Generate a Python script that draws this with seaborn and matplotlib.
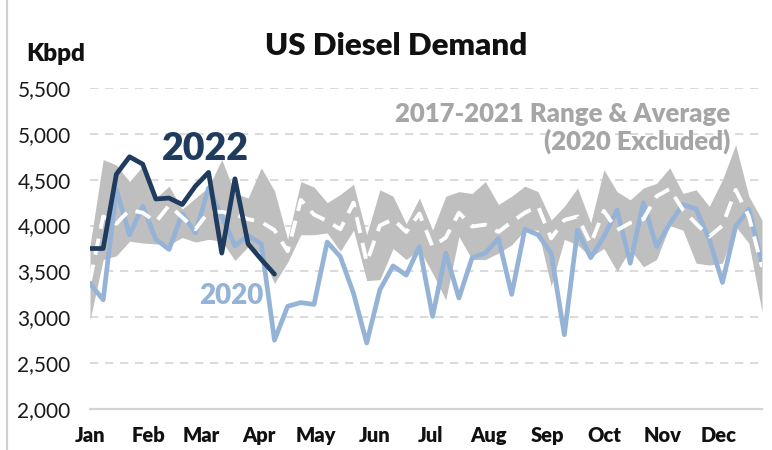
import matplotlib
matplotlib.use("Agg")
import matplotlib.pyplot as plt
from matplotlib.lines import Line2D
import seaborn as sns
import pandas as pd
import numpy as np

# weekly US diesel demand, kbpd (week 0 = first week of Jan)
weeks = list(range(52))

range_high = [3780, 4720, 4660, 4480, 4650, 4300, 4430, 4180, 4300, 4420,
              4720, 4350, 4300, 4630, 4380, 3850, 4480, 4420, 4250, 4340,
              4450, 3900, 4390, 4320, 4020, 4300, 3950, 4320, 4370, 4350,
              4480, 4230, 4320, 4430, 4370, 4060, 4210, 4410, 4030, 4610,
              4370, 4280, 4410, 4460, 4630, 4350, 4390, 4210, 4500, 4880,
              4320, 4060]
range_low = [2970, 3630, 3670, 3830, 3810, 3800, 3790, 3870, 3820, 3850,
             3830, 3620, 3770, 3700, 3370, 3600, 3900, 3900, 3920, 3720,
             3950, 3400, 3410, 3750, 3630, 3740, 3480, 3190, 3880, 3630,
             3630, 3700, 3790, 3950, 3950, 3340, 3850, 3790, 3660, 3750,
             3500, 3740, 3550, 3630, 4000, 3950, 3590, 3570, 3590, 3990,
             3810, 3060]
avg_17_21 = [3400, 4100, 4020, 4170, 4140, 4040, 4220, 4090, 3960, 4150,
             4150, 4120, 4070, 4040, 3950, 3720, 4280, 4120, 4050, 3960,
             4250, 3600, 4000, 4070, 3930, 4130, 3770, 3870, 4140, 3990,
             4010, 3930, 4040, 4140, 4210, 3860, 4060, 4100, 3800, 4160,
             3950, 4030, 4070, 4320, 4400, 4170, 4020, 3880, 4000, 4390,
             4100, 3550]
d2020 = [3370, 3190, 4390, 3900, 4210, 3850, 3740, 4130, 3920, 4410,
         4100, 3780, 3890, 3800, 2750, 3120, 3160, 3140, 3820, 3660,
         3260, 2720, 3300, 3560, 3460, 3770, 3010, 3700, 3210, 3650,
         3700, 3860, 3250, 3960, 3900, 3700, 2810, 3950, 3650, 3880,
         4170, 3590, 4250, 3770, 4020, 4230, 4180, 3850, 3380, 3990,
         4180, 3590]
d2022 = [3750, 3750, 4560, 4750, 4670, 4290, 4300, 4230, 4430, 4580,
         3700, 4510, 3800, 3630, 3470]

months = ["Jan", "Feb", "Mar", "Apr", "May", "Jun",
          "Jul", "Aug", "Sep", "Oct", "Nov", "Dec"]
month_start_day = [0, 31, 59, 90, 120, 151, 181, 212, 243, 273, 304, 334]

df = pd.DataFrame({"week": weeks, "high": range_high, "low": range_low,
                   "avg": avg_17_21, "y2020": d2020})
df22 = pd.DataFrame({"week": weeks[:len(d2022)], "y2022": d2022})

sns.set_style("white")
plt.rcParams["font.family"] = ["Lato", "DejaVu Sans"]

fig = plt.figure(figsize=(7.72, 4.5), dpi=100)
ax = fig.add_axes([90 / 772, 1 - 409 / 450, (762 - 90) / 772, (409 - 88) / 450])

ax.fill_between(df["week"], df["low"], df["high"], color="#BFBFBF", lw=0, zorder=1)
sns.lineplot(data=df, x="week", y="y2020", color="#95B3D7", lw=3.4, ax=ax, zorder=3)
sns.lineplot(data=df, x="week", y="avg", color="white", lw=2.8, ax=ax, zorder=4,
             dashes=False)
ax.lines[-1].set_dashes([4.2, 2.6])
sns.lineplot(data=df22, x="week", y="y2022", color="#1F3B5E", lw=3.4, ax=ax, zorder=5)

ax.set_xlim(0, 51)
ax.set_ylim(2000, 5500)
ax.set_yticks(range(2000, 5501, 500))
ax.set_yticklabels([f"{v:,}" for v in range(2000, 5501, 500)], fontsize=15,
                   color="#1a1a1a")
ax.set_xticks([d / 7 for d in month_start_day])
ax.set_xticklabels(months, fontsize=14.5, fontweight="heavy", color="#111111")
ax.tick_params(axis="y", length=0, pad=14)
ax.tick_params(axis="x", length=4, width=1.2, color="#D0D0D0", pad=8)
ax.set_xlabel("")
ax.set_ylabel("")

for v in range(2500, 5501, 500):
    ax.axhline(v, color="#D4D4D4", lw=1.2, ls=(0, (5, 4)), zorder=0)

for s in ["top", "right", "left"]:
    ax.spines[s].set_visible(False)
ax.spines["bottom"].set_color("#D4D4D4")
ax.spines["bottom"].set_linewidth(1.6)

fig.text(396 / 772, 1 - 46 / 450, "US Diesel Demand", ha="center", va="center",
         fontsize=22.5, fontweight="heavy", color="#111111")
fig.text(26 / 772, 1 - 54 / 450, "Kbpd", ha="left", va="center",
         fontsize=17.5, fontweight="heavy", color="#111111")
fig.text(205 / 772, 1 - 149 / 450, "2022", ha="center", va="center",
         fontsize=27, fontweight="heavy", color="#1F3B5E")
fig.text(231 / 772, 1 - 296 / 450, "2020", ha="center", va="center",
         fontsize=20, fontweight="heavy", color="#95B3D7")
fig.text(730 / 772, 1 - 128 / 450, "2017-2021 Range & Average\n(2020 Excluded)",
         ha="right", va="center", fontsize=18.5, fontweight="heavy",
         color="#A6A6A6", linespacing=1.1)

fig.add_artist(Line2D([7 / 772, 7 / 772], [0, 1], color="#D0D0D0", lw=1.5))

fig.savefig("out.png", dpi=100)
